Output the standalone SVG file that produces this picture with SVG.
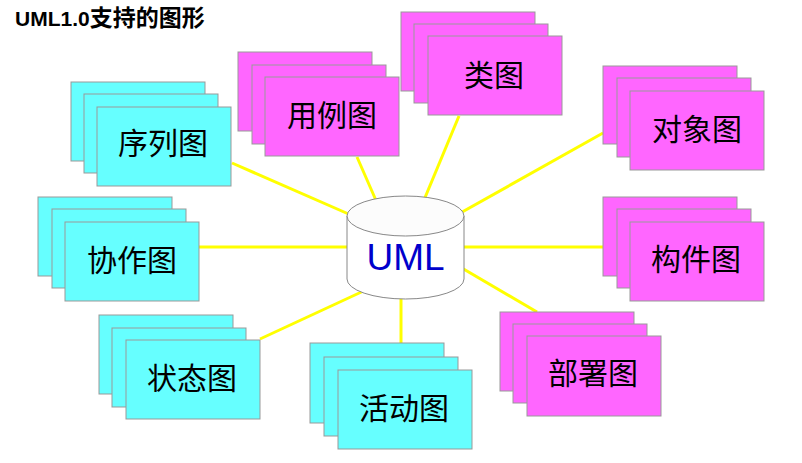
<svg xmlns="http://www.w3.org/2000/svg" width="802" height="463" viewBox="0 0 802 463">
<style>
.c rect{fill:#66FFFF;stroke:#999;stroke-width:1}
.m rect{fill:#FF66FF;stroke:#999;stroke-width:1}
.lbl{font-family:"Liberation Sans","Noto Sans CJK SC",sans-serif;font-size:30px;fill:#000;text-anchor:middle;dominant-baseline:central}
#connectors line{stroke:#FFFF00;stroke-width:3}
</style>
<rect width="802" height="463" fill="#fff"/>
<text x="15" y="26" font-family="Liberation Sans,'Noto Sans CJK SC',sans-serif" font-size="21" font-weight="bold" fill="#000">UML1.0<tspan font-size="23">支持的图形</tspan></text>
<g id="connectors">
<line x1="232" y1="163" x2="360" y2="219"/>
<line x1="357" y1="157" x2="378" y2="205"/>
<line x1="459" y1="116" x2="424" y2="200"/>
<line x1="603" y1="133" x2="455" y2="216"/>
<line x1="199" y1="247" x2="360" y2="247"/>
<line x1="450" y1="247" x2="603" y2="247"/>
<line x1="455" y1="264" x2="537" y2="312"/>
<line x1="401" y1="290" x2="401" y2="343"/>
<line x1="370" y1="288" x2="260" y2="339"/>
</g>
<g id="seq" class="c">
<rect x="71" y="82" width="134" height="79"/>
<rect x="84" y="94" width="134" height="79"/>
<rect x="97" y="107" width="134" height="79"/>
<text class="lbl" x="163" y="143.5">序列图</text>
</g>
<g id="usecase" class="m">
<rect x="238" y="52" width="134" height="79"/>
<rect x="252" y="65" width="134" height="79"/>
<rect x="265" y="77" width="134" height="79"/>
<text class="lbl" x="332" y="115">用例图</text>
</g>
<g id="class" class="m">
<rect x="401" y="12" width="134" height="79"/>
<rect x="414" y="24" width="134" height="79"/>
<rect x="428" y="36" width="134" height="79"/>
<text class="lbl" x="494" y="75">类图</text>
</g>
<g id="object" class="m">
<rect x="603" y="66" width="134" height="78"/>
<rect x="617" y="78" width="134" height="79"/>
<rect x="630" y="91" width="134" height="79"/>
<text class="lbl" x="697" y="129.5">对象图</text>
</g>
<g id="collab" class="c">
<rect x="38" y="197" width="134" height="79"/>
<rect x="52" y="209" width="134" height="79"/>
<rect x="65" y="222" width="134" height="79"/>
<text class="lbl" x="132" y="260">协作图</text>
</g>
<g id="component" class="m">
<rect x="603" y="197" width="134" height="79"/>
<rect x="617" y="209" width="134" height="79"/>
<rect x="630" y="222" width="134" height="79"/>
<text class="lbl" x="696" y="259">构件图</text>
</g>
<g id="deploy" class="m">
<rect x="500" y="312" width="134" height="79"/>
<rect x="513" y="324" width="134" height="79"/>
<rect x="527" y="336" width="134" height="80"/>
<text class="lbl" x="593" y="373.5">部署图</text>
</g>
<g id="state" class="c">
<rect x="99" y="315" width="134" height="79"/>
<rect x="112" y="328" width="134" height="79"/>
<rect x="126" y="340" width="134" height="79"/>
<text class="lbl" x="192" y="378.5">状态图</text>
</g>
<g id="activity" class="c">
<rect x="310" y="343" width="134" height="80"/>
<rect x="324" y="357" width="134" height="79"/>
<rect x="338" y="370" width="134" height="79"/>
<text class="lbl" x="404" y="408">活动图</text>
</g>
<g id="uml">
<path d="M347,216 L347,279 A58.5,20 0 0 0 464,279 L464,216" fill="#fff" stroke="#888" stroke-width="1"/>
<ellipse cx="405.5" cy="216" rx="58.5" ry="20" fill="#FCFCFC" stroke="#888" stroke-width="1"/>
<text x="405.5" y="270" font-family="Liberation Sans,Arial,sans-serif" font-size="37" fill="#0000CC" text-anchor="middle">UML</text>
</g>
</svg>
